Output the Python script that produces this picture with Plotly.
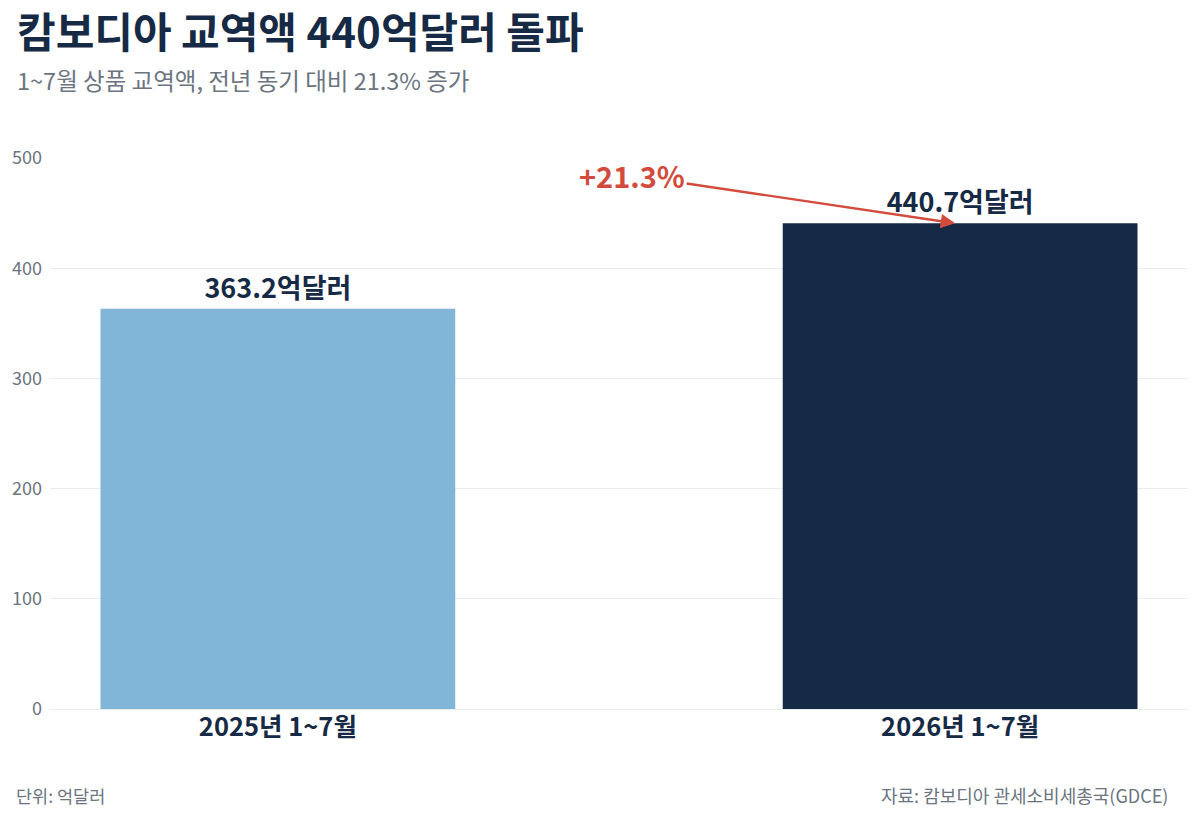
import plotly.graph_objects as go

# Data
periods = ['2025년 1~7월', '2026년 1~7월']
trade_values = [363.2, 440.7]
value_labels = ['363.2억달러', '440.7억달러']
growth_label = '+21.3%'

FONT = 'Noto Sans CJK KR'
NAVY = '#162a46'
GRAY = '#6b7480'
RED = '#d24b3c'

fig = go.Figure()

fig.add_trace(go.Bar(
    x=periods,
    y=trade_values,
    text=value_labels,
    textposition='outside',
    textfont=dict(family=FONT, size=27, color=NAVY, weight='bold'),
    marker=dict(color=['#82b6d8', NAVY], line=dict(width=0)),
    width=0.52,
    cliponaxis=False,
    hoverinfo='skip',
))

# Growth arrow pointing at the 2026 bar
fig.add_annotation(
    x=periods[1], y=trade_values[1],
    xshift=-5,
    text=f'<b>{growth_label}</b>',
    font=dict(family=FONT, size=29, color=RED),
    showarrow=True,
    arrowhead=2, arrowsize=1.2, arrowwidth=2.4, arrowcolor=RED,
    ax=-323, ay=-48,
)

# Title and subtitle
fig.add_annotation(
    xref='paper', yref='paper', x=-0.031, y=1.0, yshift=129,
    xanchor='left', yanchor='middle', showarrow=False,
    text='<b>캄보디아 교역액 440억달러 돌파</b>',
    font=dict(family=FONT, size=42, color=NAVY),
)
fig.add_annotation(
    xref='paper', yref='paper', x=-0.031, y=1.0, yshift=78,
    xanchor='left', yanchor='middle', showarrow=False,
    text='1~7월 상품 교역액, 전년 동기 대비 21.3% 증가',
    font=dict(family=FONT, size=23.5, color=GRAY),
)

# Footer
fig.add_annotation(
    xref='paper', yref='paper', x=-0.0316, y=0, yshift=-86,
    xanchor='left', yanchor='middle', showarrow=False,
    text='단위: 억달러',
    font=dict(family=FONT, size=17.5, color=GRAY),
)
fig.add_annotation(
    xref='paper', yref='paper', x=0.984, y=0, yshift=-86,
    xanchor='right', yanchor='middle', showarrow=False,
    text='자료: 캄보디아 관세소비세총국(GDCE)',
    font=dict(family=FONT, size=18, color=GRAY),
)

fig.update_layout(
    width=1200, height=817,
    margin=dict(l=50, r=12, t=158, b=108),
    paper_bgcolor='white',
    plot_bgcolor='white',
    showlegend=False,
    font=dict(family=FONT),
    xaxis=dict(
        range=[-0.334, 1.334],
        showgrid=False, showline=False, zeroline=False,
        ticks='',
        tickfont=dict(family=FONT, size=25.5, color=NAVY, weight='bold'),
    ),
    yaxis=dict(
        range=[0, 500],
        tickvals=[0, 100, 200, 300, 400, 500],
        showgrid=True, gridcolor='#ebebeb', gridwidth=1,
        zeroline=True, zerolinecolor='#ebebeb', zerolinewidth=1,
        showline=False, ticks='',
        ticklabelstandoff=7,
        tickfont=dict(family=FONT, size=18, color=GRAY),
    ),
)

# drop the default body margin so the figure sits at the window's top-left
fig.write_html(
    'out.html',
    config={'displayModeBar': False},
    post_script="document.body.style.margin='0';",
)
